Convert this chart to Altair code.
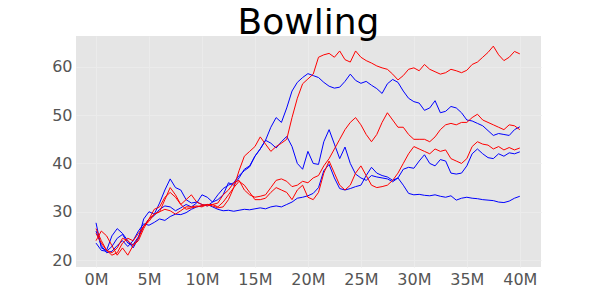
import altair as alt
import pandas as pd

steps = [i * 0.5 for i in range(81)]  # millions of frames

blue_a = [23.5, 22.0, 21.8, 22.8, 24.5, 25.3, 23.5, 23.2, 24.8, 27.0,
          28.5, 29.2, 30.5, 31.2, 31.0, 30.2, 30.8, 31.5, 31.0, 31.8,
          33.5, 33.0, 32.0, 32.5, 33.5, 36.0, 35.5, 37.0, 38.8, 39.5,
          41.5, 43.0, 44.8, 47.5, 49.5, 48.5, 51.5, 55.0, 56.8, 57.8,
          58.6, 58.2, 57.8, 56.8, 56.0, 55.6, 55.8, 57.0, 58.5, 57.2,
          56.6, 57.0, 56.2, 55.5, 54.5, 56.5, 57.4, 56.8, 55.0, 53.5,
          52.8, 52.5, 51.0, 51.5, 53.0, 50.5, 50.8, 51.8, 51.5, 50.5,
          49.0, 48.8, 48.3, 47.8, 46.8, 45.8, 46.2, 46.0, 45.8, 47.0, 47.6]
blue_b = [27.7, 22.5, 22.0, 25.0, 26.5, 25.5, 24.0, 22.5, 24.5, 28.5,
          30.0, 29.5, 31.8, 34.5, 36.8, 35.0, 34.5, 32.5, 31.8, 32.0,
          31.5, 31.2, 32.0, 33.5, 34.8, 35.5, 36.0, 37.5, 38.5, 39.3,
          41.5, 43.0, 44.8, 44.2, 43.2, 44.5, 45.6, 43.5, 40.0, 38.8,
          42.5, 40.0, 39.8, 44.5, 47.0, 44.0, 41.0, 43.4, 40.0, 37.8,
          37.0, 36.5, 37.5, 37.2, 37.0, 36.8, 36.2, 37.0, 38.8, 39.2,
          39.0, 40.5, 41.8, 40.0, 39.5, 40.8, 40.5, 38.0, 37.8, 38.0,
          39.5, 42.0, 43.0, 42.0, 41.2, 41.0, 42.0, 41.5, 42.2, 42.0, 42.4]
blue_c = [26.0, 23.0, 21.5, 21.8, 23.0, 24.0, 22.8, 24.0, 26.0, 27.5,
          27.2, 27.8, 28.5, 28.2, 29.0, 29.5, 29.4, 29.8, 30.5, 31.0,
          31.2, 31.5, 31.0, 30.5, 30.2, 30.3, 30.1, 30.3, 30.5, 30.4,
          30.6, 30.8, 30.6, 31.0, 31.2, 31.0, 31.5, 32.0, 32.8, 33.0,
          33.3, 33.8, 35.0, 38.5, 39.8, 37.0, 34.8, 34.5, 34.8, 35.2,
          35.5, 37.5, 39.2, 38.0, 37.5, 37.2, 36.5, 37.0, 35.5, 33.8,
          33.5, 33.6, 33.4, 33.3, 33.5, 33.2, 33.0, 33.3, 32.4, 32.8,
          33.0, 32.8, 32.7, 32.5, 32.4, 32.3, 32.0, 31.9, 32.2, 32.8, 33.2]
red_a = [26.5, 24.0, 22.0, 21.0, 21.5, 23.5, 24.5, 24.0, 25.5, 27.0,
         28.5, 29.5, 30.0, 30.5, 30.2, 29.5, 30.2, 31.0, 31.0, 31.2,
         31.0, 31.5, 31.5, 31.0, 32.0, 33.5, 35.0, 38.5, 41.5, 42.5,
         43.5, 45.5, 44.0, 42.5, 43.5, 44.2, 45.0, 49.5, 53.5, 56.5,
         57.5, 58.5, 62.0, 62.5, 62.8, 62.0, 63.3, 61.5, 61.0, 63.3,
         62.0, 61.3, 60.8, 60.2, 59.8, 59.5, 58.5, 57.3, 58.2, 59.5,
         59.8, 59.2, 60.5, 59.5, 59.0, 58.5, 58.8, 59.5, 59.2, 58.8,
         59.3, 60.5, 61.0, 62.0, 63.0, 64.3, 62.5, 61.3, 62.0, 63.2, 62.7]
red_b = [25.5, 23.5, 22.0, 21.5, 22.5, 24.5, 24.0, 23.0, 24.0, 26.5,
         28.5, 30.5, 31.0, 33.0, 34.0, 33.0, 31.5, 32.5, 33.5, 32.0,
         31.5, 31.2, 31.5, 31.8, 33.5, 34.5, 36.0, 36.5, 34.5, 33.5,
         33.0, 33.2, 33.5, 35.0, 36.5, 36.8, 36.3, 35.2, 35.5, 36.3,
         36.0, 37.0, 37.5, 39.5, 41.0, 43.0, 45.0, 47.0, 48.5, 49.5,
         48.0, 46.0, 44.5, 46.0, 48.5, 50.5, 49.0, 47.5, 47.5, 46.0,
         45.0, 45.0, 45.0, 44.5, 45.5, 47.0, 48.0, 48.3, 48.0, 48.5,
         48.5, 49.5, 50.2, 49.0, 48.5, 48.0, 47.5, 47.0, 48.0, 47.8, 47.0]
red_c = [24.0, 26.0, 25.0, 23.0, 21.0, 22.5, 21.0, 23.0, 24.5, 27.0,
         28.0, 29.5, 30.0, 32.5, 35.0, 33.5, 31.5, 30.5, 30.8, 31.0,
         31.3, 31.5, 31.2, 30.8, 31.0, 32.5, 35.0, 36.3, 35.5, 34.0,
         32.5, 32.5, 32.8, 34.0, 35.0, 34.5, 34.0, 32.5, 34.5, 35.5,
         33.0, 32.5, 34.0, 38.0, 40.5, 38.0, 35.5, 34.5, 35.5, 38.0,
         39.5, 37.5, 35.5, 35.0, 35.2, 35.5, 36.5, 38.0, 40.0, 42.0,
         43.5, 43.0, 42.5, 42.0, 43.0, 42.5, 42.8, 41.0, 40.5, 40.0,
         41.0, 43.5, 44.5, 44.0, 43.8, 43.0, 43.5, 42.8, 43.3, 42.8, 43.2]

series = [("blue_c", "blue", blue_c), ("blue_b", "blue", blue_b), ("blue_a", "blue", blue_a),
          ("red_c", "red", red_c), ("red_b", "red", red_b), ("red_a", "red", red_a)]

rows = []
for name, grp, vals in series:
    for s, v in zip(steps, vals):
        rows.append({"step": s, "score": v, "run": name, "group": grp})
df = pd.DataFrame(rows)

chart = alt.Chart(df).mark_line(strokeWidth=1, interpolate="linear").encode(
    x=alt.X("step:Q",
            scale=alt.Scale(domain=[-1.89, 42.0], nice=False, zero=False),
            axis=alt.Axis(values=[0, 5, 10, 15, 20, 25, 30, 35, 40],
                          labelExpr="datum.value + 'M'", title=None)),
    y=alt.Y("score:Q",
            scale=alt.Scale(domain=[18.55, 66.4], nice=False, zero=False),
            axis=alt.Axis(values=[20, 30, 40, 50, 60], title=None)),
    color=alt.Color("group:N",
                    scale=alt.Scale(domain=["blue", "red"], range=["#0000FF", "#FF0000"]),
                    legend=None),
    detail="run:N",
).properties(
    width=465, height=231,
    title=alt.TitleParams("Bowling", fontSize=36, font="DejaVu Sans", fontWeight="normal",
                          color="black", anchor="middle", offset=-6),
    autosize=alt.AutoSizeParams(type="none"),
    padding={"left": 68, "top": 28, "right": 51, "bottom": 25},
).configure_view(
    fill="#E5E5E5", stroke=None
).configure_axis(
    domain=False, ticks=False, grid=True, gridColor="#EBEBEB", gridWidth=1,
    labelFont="DejaVu Sans", labelFontSize=16, labelColor="#555555", labelPadding=4
)

chart.save("out.html", embed_options={"renderer": "svg", "actions": False})
